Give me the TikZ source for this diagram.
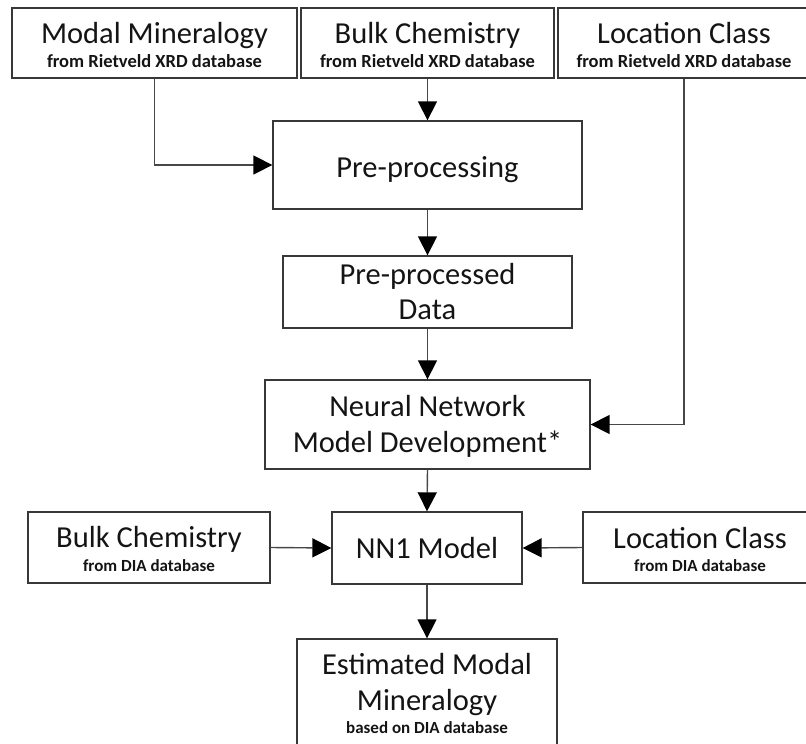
\documentclass[tikz,border=0pt]{standalone}
\usepackage{fontspec}
\setmainfont{Carlito}
\usetikzlibrary{arrows.meta}
\begin{document}
\begin{tikzpicture}[x=1pt,y=-1pt,
  boxst/.style={draw=black!78,line width=1.3pt,rectangle,inner sep=0pt},
  ttl/.style={anchor=base,inner sep=0pt,font=\fontsize{30.5}{35}\selectfont,text=black!92},
  sub/.style={anchor=base,inner sep=0pt,font=\fontsize{18.5}{21}\selectfont\bfseries,text=black!92},
  subs/.style={anchor=base,inner sep=0pt,font=\fontsize{17}{20}\selectfont\bfseries,text=black!92},
  conn/.style={draw=black!72,line width=1.4pt,-{Triangle[length=19pt,width=19pt,color=black]}}]
\useasboundingbox (0,0) rectangle (806,744);
% boxes
\node[boxst,minimum width=285pt,minimum height=70pt] (mm) at (154.5,43) {};
\node[boxst,minimum width=253pt,minimum height=70pt] (bc) at (427.5,43) {};
\node[boxst,minimum width=252pt,minimum height=70pt] (lc) at (684,43) {};
\node[boxst,minimum width=309pt,minimum height=88pt] (pp) at (427.5,165) {};
\node[boxst,minimum width=289pt,minimum height=72pt] (ppd) at (427.5,292) {};
\node[boxst,minimum width=325pt,minimum height=89pt] (nn) at (427.5,424.5) {};
\node[boxst,minimum width=242pt,minimum height=71pt] (bcd) at (149,547.5) {};
\node[boxst,minimum width=190pt,minimum height=72pt] (nn1) at (427,548) {};
\node[boxst,minimum width=234pt,minimum height=71pt] (lcd) at (700,547.5) {};
\node[boxst,minimum width=260pt,minimum height=121pt] (est) at (427,699.5) {};
% texts
\node[ttl] (t1) at (154.5,43) {Modal Mineralogy};
\node[sub] (s1) at (154.5,67) {from Rietveld XRD database};
\node[ttl] (t2) at (427.5,43) {Bulk Chemistry};
\node[sub] (s2) at (427.5,67) {from Rietveld XRD database};
\node[ttl] (t3) at (684,43) {Location Class};
\node[sub] (s3) at (684,67) {from Rietveld XRD database};
\node[ttl] (t4) at (427.5,177) {Pre-processing};
\node[ttl] (t5) at (427.5,284) {Pre-processed};
\node[ttl] (t6) at (427.5,319) {Data};
\node[ttl] (t7) at (427.5,416) {Neural Network};
\node[ttl] (t8) at (427.5,452) {Model Development*};
\node[ttl] (t9) at (149,547) {Bulk Chemistry};
\node[subs] (s9) at (149,571) {from DIA database};
\node[ttl] (t10) at (427,558) {NN1 Model};
\node[ttl] (t11) at (700,548) {Location Class};
\node[subs] (s11) at (700,571) {from DIA database};
\node[ttl] (t12) at (427,674) {Estimated Modal};
\node[ttl] (t13) at (427,710) {Mineralogy};
\node[subs] (s13) at (427,733) {based on DIA database};
% connectors
\draw[conn] (bc.south) -- (pp.north);
\draw[conn] (mm.south) |- (pp.west);
\draw[conn] (lc.south) |- (nn.east);
\draw[conn] (pp.south) -- (ppd.north);
\draw[conn] (ppd.south) -- (nn.north);
\draw[conn] (nn.south) -- (nn1.north);
\draw[conn] (bcd.east) -- (nn1.west);
\draw[conn] (lcd.west) -- (nn1.east);
\draw[conn] (nn1.south) -- (est.north);
\end{tikzpicture}
\end{document}
